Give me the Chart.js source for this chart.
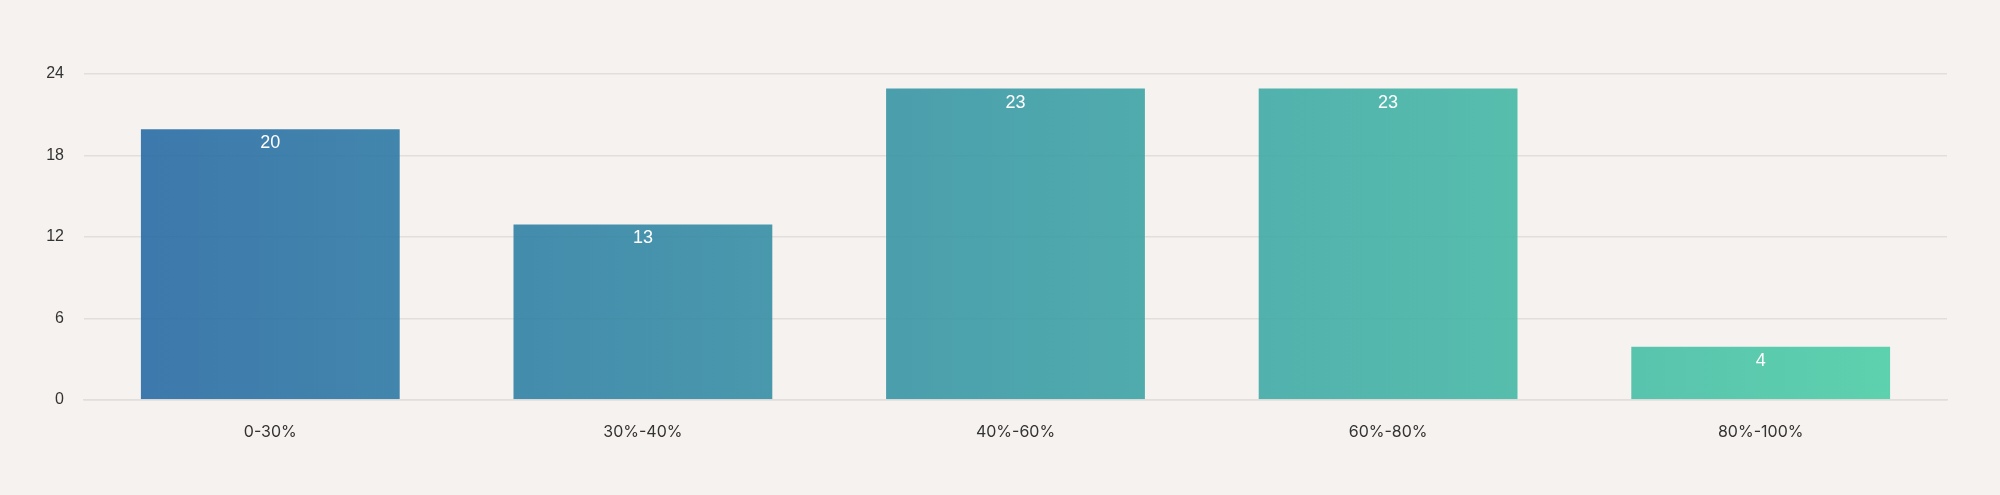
<!DOCTYPE html>
<html>
<head>
<meta charset="utf-8">
<title>bar chart</title>
<script src="https://cdn.jsdelivr.net/npm/chart.js@4.4.1/dist/chart.umd.min.js"></script>
<style>
  html, body { margin: 0; padding: 0; background: #f6f2ef; }
  #wrap { width: 2000px; height: 495px; }
</style>
</head>
<body>
<div id="wrap"><canvas id="c1" width="2000" height="495"></canvas></div>
<script>
  // data
  var categories = ['0-30%', '30%-40%', '40%-60%', '60%-80%', '80%-100%']
  var counts = [20, 13, 23, 23, 4]
  var yTicks = [0, 6, 12, 18, 24]

  // horizontal gradient across the whole plot area
  function barGradient(context) {
    var chart = context.chart
    var area = chart.chartArea
    if (!area) return 'rgba(60,120,170,0.9)'
    var g = chart.ctx.createLinearGradient(area.left, 0, area.right, 0)
    g.addColorStop(0, 'rgba(40,104,164,0.9)')
    g.addColorStop(1, 'rgba(78,208,166,0.9)')
    return g
  }

  // value text just inside the top of each bar
  var valueLabels = {
    id: 'valueLabels',
    afterDatasetsDraw: function(chart) {
      var ctx = chart.ctx
      var meta = chart.getDatasetMeta(0)
      ctx.save()
      ctx.fillStyle = '#ffffff'
      ctx.font = '18px "Liberation Sans", Arial, sans-serif'
      ctx.textAlign = 'center'
      ctx.textBaseline = 'middle'
      meta.data.forEach(function(bar, i) {
        ctx.fillText(String(counts[i]), bar.x, bar.y + 15)
      })
      ctx.restore()
    }
  }

  var ctx = document.getElementById('c1')
  var chart1 = new Chart(ctx, {
    type: 'bar',
    data: {
      labels: categories,
      datasets: [{
        data: counts,
        backgroundColor: barGradient,
        borderColor: 'rgba(255,255,255,0.15)',
        borderWidth: 1,
        categoryPercentage: 0.7,
        barPercentage: 1.0
      }]
    },
    options: {
      responsive: false,
      animation: false,
      devicePixelRatio: 1,
      layout: {
        padding: { top: 74, right: 53, left: 0, bottom: 0 }
      },
      plugins: {
        legend: { display: false },
        tooltip: { enabled: false }
      },
      scales: {
        x: {
          grid: { display: false, drawTicks: false },
          border: { display: true, color: '#e2dedb', width: 1.5 },
          ticks: {
            padding: 23,
            color: '#333333',
            font: { family: 'Inter', size: 16 }
          },
          afterFit: function(scale) { scale.height = 95 }
        },
        y: {
          min: 0,
          max: 24,
          afterBuildTicks: function(scale) {
            scale.ticks = yTicks.map(function(v) { return { value: v } })
          },
          grid: { color: '#e2dedb', lineWidth: 1.5, drawTicks: false },
          border: { display: false },
          ticks: {
            padding: 20,
            color: '#333333',
            font: { family: '"Liberation Sans"', size: 16 }
          },
          afterFit: function(scale) { scale.width = 84 }
        }
      }
    },
    plugins: [valueLabels]
  })
</script>
</body>
</html>
